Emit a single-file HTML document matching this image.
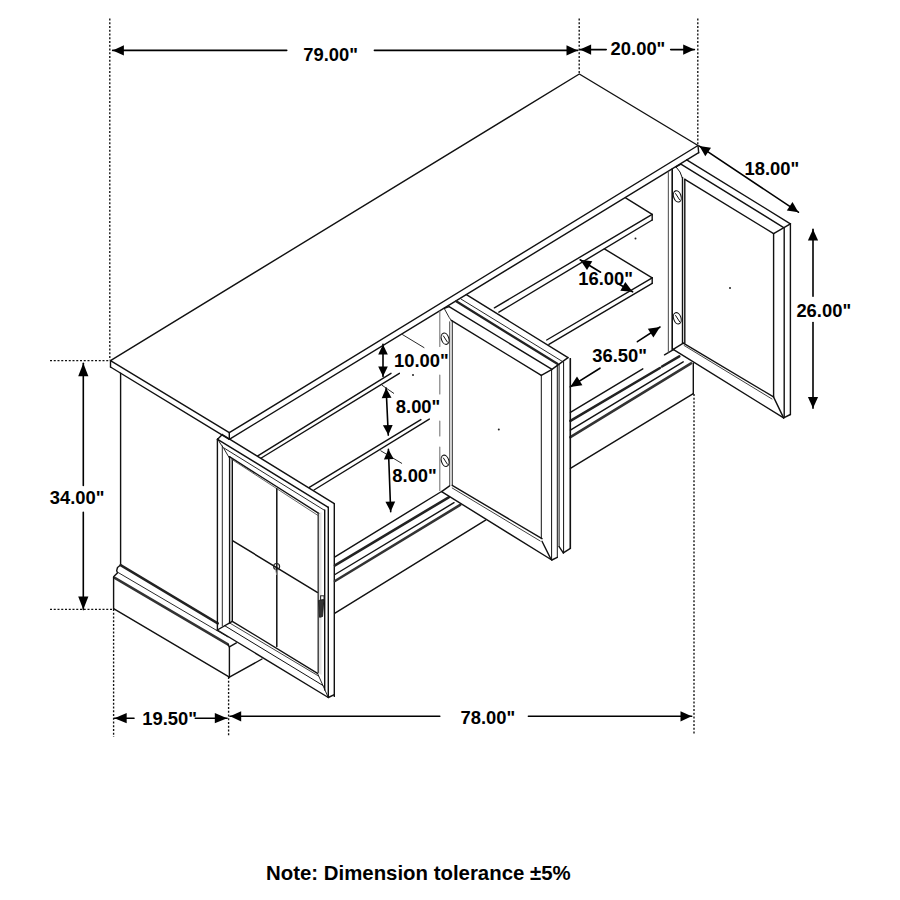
<!DOCTYPE html>
<html><head><meta charset="utf-8"><style>
html,body{margin:0;padding:0;background:#fff;}
body{width:900px;height:900px;overflow:hidden;position:relative;}
svg{position:absolute;left:0;top:0;}
text{font-family:"Liberation Sans",sans-serif;font-weight:bold;fill:#000;}
.note{position:absolute;left:266px;top:862.3px;font-family:"Liberation Sans",sans-serif;font-weight:bold;font-size:20.4px;color:#000;white-space:nowrap;}
</style></head><body>
<svg width="900" height="900" viewBox="0 0 900 900" stroke-linecap="round">
<line x1="109.8" y1="18.5" x2="109.8" y2="360.0" stroke="#111" stroke-width="1.35" stroke-dasharray="2 1.75" stroke-linecap="butt"/>
<line x1="579.2" y1="18.5" x2="579.2" y2="74.0" stroke="#111" stroke-width="1.35" stroke-dasharray="2 1.75" stroke-linecap="butt"/>
<line x1="697.8" y1="18.5" x2="697.8" y2="145.0" stroke="#111" stroke-width="1.35" stroke-dasharray="2 1.75" stroke-linecap="butt"/>
<line x1="50.0" y1="360.6" x2="110.0" y2="360.6" stroke="#111" stroke-width="1.35" stroke-dasharray="2 1.75" stroke-linecap="butt"/>
<line x1="50.0" y1="609.3" x2="114.0" y2="609.3" stroke="#111" stroke-width="1.35" stroke-dasharray="2 1.75" stroke-linecap="butt"/>
<line x1="113.6" y1="609.0" x2="113.6" y2="737.0" stroke="#111" stroke-width="1.35" stroke-dasharray="2 1.75" stroke-linecap="butt"/>
<line x1="228.6" y1="677.0" x2="228.6" y2="737.0" stroke="#111" stroke-width="1.35" stroke-dasharray="2 1.75" stroke-linecap="butt"/>
<line x1="694.0" y1="394.0" x2="694.0" y2="735.0" stroke="#111" stroke-width="1.35" stroke-dasharray="2 1.75" stroke-linecap="butt"/>
<line x1="112.7" y1="50.4" x2="286.7" y2="50.4" stroke="#000" stroke-width="1.6" />
<polygon points="112.7,50.4 123.9,45.3 123.9,55.5" fill="#000"/>
<line x1="374.4" y1="50.4" x2="577.7" y2="50.4" stroke="#000" stroke-width="1.6" />
<polygon points="577.7,50.4 566.5,55.5 566.5,45.3" fill="#000"/>
<line x1="579.9" y1="49.6" x2="606.2" y2="49.6" stroke="#000" stroke-width="1.6" />
<polygon points="579.9,49.6 591.1,44.5 591.1,54.7" fill="#000"/>
<line x1="670.7" y1="49.6" x2="694.4" y2="49.6" stroke="#000" stroke-width="1.6" />
<polygon points="694.4,49.6 683.2,54.7 683.2,44.5" fill="#000"/>
<line x1="83.3" y1="363.3" x2="83.3" y2="485.5" stroke="#000" stroke-width="1.6" />
<polygon points="83.3,363.3 88.4,376.3 78.2,376.3" fill="#000"/>
<line x1="83.3" y1="512.4" x2="83.3" y2="609.6" stroke="#000" stroke-width="1.6" />
<polygon points="83.3,609.6 78.2,596.6 88.4,596.6" fill="#000"/>
<line x1="114.4" y1="718.2" x2="134.0" y2="718.2" stroke="#000" stroke-width="1.6" />
<polygon points="114.4,718.2 126.7,713.1 126.7,723.3" fill="#000"/>
<line x1="195.3" y1="718.2" x2="227.1" y2="718.2" stroke="#000" stroke-width="1.6" />
<polygon points="227.1,718.2 214.8,723.3 214.8,713.1" fill="#000"/>
<line x1="230.0" y1="716.3" x2="439.8" y2="716.3" stroke="#000" stroke-width="1.6" />
<polygon points="230.0,716.3 241.2,711.2 241.2,721.4" fill="#000"/>
<line x1="528.4" y1="716.3" x2="691.7" y2="716.3" stroke="#000" stroke-width="1.6" />
<polygon points="691.7,716.3 680.5,721.4 680.5,711.2" fill="#000"/>
<line x1="699.4" y1="146.1" x2="798.4" y2="212.2" stroke="#000" stroke-width="1.6" />
<polygon points="699.4,146.1 711.0,147.7 705.3,156.2" fill="#000"/>
<polygon points="798.4,212.2 786.8,210.6 792.5,202.1" fill="#000"/>
<line x1="813.0" y1="229.3" x2="813.0" y2="296.3" stroke="#000" stroke-width="1.6" />
<polygon points="813.0,229.3 818.1,240.5 807.9,240.5" fill="#000"/>
<line x1="813.0" y1="322.6" x2="813.0" y2="408.3" stroke="#000" stroke-width="1.6" />
<polygon points="813.0,408.3 807.9,397.1 818.1,397.1" fill="#000"/>
<line x1="580.1" y1="259.8" x2="600.6" y2="272.2" stroke="#000" stroke-width="1.6" />
<polygon points="580.1,259.8 592.3,261.2 587.0,270.0" fill="#000"/>
<line x1="618.3" y1="283.8" x2="632.6" y2="291.8" stroke="#000" stroke-width="1.6" />
<polygon points="632.6,291.8 620.3,290.8 625.3,281.9" fill="#000"/>
<line x1="570.2" y1="386.9" x2="600.0" y2="368.2" stroke="#000" stroke-width="1.6" />
<polygon points="570.2,386.9 577.0,376.6 582.4,385.3" fill="#000"/>
<line x1="637.4" y1="341.7" x2="660.0" y2="327.0" stroke="#000" stroke-width="1.6" />
<polygon points="660.0,327.0 653.4,337.4 647.8,328.8" fill="#000"/>
<line x1="383.0" y1="344.4" x2="383.0" y2="376.4" stroke="#000" stroke-width="1.6" />
<polygon points="383.0,344.4 387.8,354.4 378.2,354.4" fill="#000"/>
<polygon points="383.0,376.4 378.2,366.4 387.8,366.4" fill="#000"/>
<line x1="386.1" y1="388.0" x2="388.3" y2="435.1" stroke="#000" stroke-width="1.6" />
<polygon points="386.1,388.0 391.5,397.8 381.7,398.2" fill="#000"/>
<polygon points="388.3,435.1 382.9,425.3 392.7,424.9" fill="#000"/>
<line x1="388.4" y1="449.3" x2="390.7" y2="511.6" stroke="#000" stroke-width="1.6" />
<polygon points="388.4,449.3 393.7,459.1 383.9,459.5" fill="#000"/>
<polygon points="390.7,511.6 385.4,501.8 395.2,501.4" fill="#000"/>
<polyline points="110.5,360.6 579.3,74.0 698.0,145.5 229.3,432.7 110.5,360.6" fill="none" stroke="#111" stroke-width="1.4" stroke-linejoin="round"/>
<line x1="110.5" y1="360.6" x2="110.5" y2="367.0" stroke="#111" stroke-width="1.4" />
<line x1="110.5" y1="367.0" x2="229.3" y2="439.3" stroke="#111" stroke-width="1.4" />
<line x1="229.3" y1="432.7" x2="229.3" y2="439.3" stroke="#111" stroke-width="1.4" />
<line x1="229.3" y1="439.3" x2="698.7" y2="152.7" stroke="#111" stroke-width="1.4" />
<line x1="698.0" y1="145.5" x2="698.7" y2="152.7" stroke="#111" stroke-width="1.4" />
<line x1="120.6" y1="373.3" x2="120.6" y2="565.0" stroke="#111" stroke-width="1.4" />
<polyline points="120.6,565.0 117.5,567.5 116.7,570.6 117.4,572.9 114.3,576.0 113.6,577.5" fill="none" stroke="#111" stroke-width="1.4" stroke-linejoin="round"/>
<line x1="120.6" y1="565.1" x2="217.8" y2="623.4" stroke="#222" stroke-width="2.4" />
<line x1="117.6" y1="572.2" x2="227.9" y2="637.0" stroke="#111" stroke-width="0.9" />
<line x1="114.3" y1="577.6" x2="227.9" y2="644.4" stroke="#333" stroke-width="2.6" />
<line x1="113.6" y1="577.0" x2="113.6" y2="608.7" stroke="#111" stroke-width="1.4" />
<line x1="113.6" y1="608.7" x2="229.4" y2="677.1" stroke="#111" stroke-width="1.4" />
<line x1="229.4" y1="646.8" x2="229.4" y2="677.1" stroke="#111" stroke-width="1.4" />
<line x1="227.9" y1="644.4" x2="229.4" y2="646.8" stroke="#111" stroke-width="1.4" />
<line x1="229.4" y1="646.8" x2="236.4" y2="642.9" stroke="#111" stroke-width="1.4" />
<line x1="229.4" y1="677.1" x2="262.0" y2="659.0" stroke="#111" stroke-width="1.4" />
<polygon points="318.2,514 321.5,512 321.5,675 318.2,673" fill="#e2e2e2"/>
<line x1="217.4" y1="439.3" x2="217.4" y2="630.0" stroke="#111" stroke-width="1.4" />
<line x1="222.3" y1="446.0" x2="222.3" y2="625.8" stroke="#111" stroke-width="0.9" />
<line x1="229.6" y1="456.7" x2="229.6" y2="623.0" stroke="#111" stroke-width="1.4" />
<line x1="232.3" y1="459.5" x2="232.3" y2="621.3" stroke="#111" stroke-width="1.4" />
<line x1="217.6" y1="439.3" x2="222.3" y2="434.6" stroke="#111" stroke-width="1.4" />
<line x1="222.3" y1="434.6" x2="334.3" y2="503.7" stroke="#111" stroke-width="1.4" />
<line x1="217.6" y1="439.3" x2="328.3" y2="507.3" stroke="#111" stroke-width="1.4" />
<line x1="224.0" y1="448.0" x2="324.0" y2="510.0" stroke="#111" stroke-width="0.9" />
<line x1="229.4" y1="456.7" x2="318.7" y2="513.3" stroke="#111" stroke-width="1.4" />
<line x1="232.0" y1="459.5" x2="318.0" y2="515.5" stroke="#555" stroke-width="0.9" />
<polyline points="217.6,438.7 220.0,443.0 223.7,448.3 229.2,457.7" fill="none" stroke="#111" stroke-width="0.9" stroke-linejoin="round"/>
<line x1="318.2" y1="513.3" x2="318.2" y2="672.4" stroke="#444" stroke-width="1.5" />
<line x1="324.7" y1="510.0" x2="324.7" y2="690.0" stroke="#111" stroke-width="1.4" />
<line x1="328.3" y1="507.3" x2="328.3" y2="697.3" stroke="#111" stroke-width="1.4" />
<line x1="334.3" y1="503.7" x2="334.3" y2="696.4" stroke="#111" stroke-width="1.4" />
<line x1="217.3" y1="630.0" x2="328.3" y2="697.5" stroke="#111" stroke-width="1.4" />
<line x1="328.3" y1="697.5" x2="334.3" y2="694.6" stroke="#111" stroke-width="1.4" />
<line x1="217.3" y1="630.0" x2="232.3" y2="621.3" stroke="#111" stroke-width="1.4" />
<line x1="232.3" y1="621.3" x2="317.5" y2="673.3" stroke="#111" stroke-width="1.4" />
<line x1="229.7" y1="623.0" x2="318.5" y2="676.0" stroke="#111" stroke-width="0.8" />
<line x1="224.7" y1="625.7" x2="323.0" y2="685.5" stroke="#111" stroke-width="1.0" />
<line x1="317.5" y1="673.3" x2="328.3" y2="697.5" stroke="#111" stroke-width="0.9" />
<line x1="276.8" y1="488.8" x2="276.8" y2="646.6" stroke="#111" stroke-width="1.5" />
<line x1="232.9" y1="540.9" x2="317.3" y2="592.4" stroke="#111" stroke-width="1.5" />
<circle cx="276.6" cy="566.5" r="3" fill="none" stroke="#222" stroke-width="1.2"/>
<path d="M275.5 569.5 L276.8 575 L278 569.5" fill="none" stroke="#888" stroke-width="0.8"/>
<rect x="320.6" y="595.8" width="3.4" height="4.5" fill="none" stroke="#222" stroke-width="1"/>
<polygon points="318.8,600.5 323.8,599.5 323.2,608.0 322.6,616.5 319.6,617.3 319.0,608.0" fill="#333" stroke="#222" stroke-width="1.0" stroke-linejoin="round"/>
<line x1="257.8" y1="455.8" x2="391.0" y2="373.3" stroke="#111" stroke-width="1.4" />
<line x1="261.3" y1="458.0" x2="399.4" y2="373.3" stroke="#111" stroke-width="1.4" />
<line x1="402.5" y1="334.6" x2="424.0" y2="347.6" stroke="#111" stroke-width="0.9" />
<line x1="382.1" y1="385.3" x2="393.7" y2="393.3" stroke="#111" stroke-width="0.9" />
<line x1="309.3" y1="487.3" x2="420.9" y2="419.6" stroke="#111" stroke-width="1.4" />
<line x1="314.0" y1="490.0" x2="429.3" y2="419.1" stroke="#111" stroke-width="1.4" />
<line x1="380.8" y1="450.8" x2="401.7" y2="463.3" stroke="#111" stroke-width="0.9" />
<line x1="439.8" y1="311.0" x2="439.8" y2="346.5" stroke="#777" stroke-width="1.1" />
<line x1="439.8" y1="375.0" x2="439.8" y2="394.0" stroke="#777" stroke-width="1.1" />
<line x1="439.8" y1="421.0" x2="439.8" y2="436.0" stroke="#777" stroke-width="1.1" />
<line x1="439.8" y1="447.0" x2="439.8" y2="490.5" stroke="#777" stroke-width="1.1" />
<line x1="449.7" y1="321.8" x2="449.7" y2="485.5" stroke="#555" stroke-width="1.1" />
<line x1="452.3" y1="320.9" x2="452.3" y2="485.3" stroke="#333" stroke-width="1.1" />
<ellipse cx="445.1" cy="338.7" rx="3.7" ry="5.8" transform="rotate(-18 445.1 338.7)" fill="#fff" stroke="#111" stroke-width="1.1"/>
<line x1="443.4" y1="335.9" x2="447.4" y2="342.1" stroke="#111" stroke-width="1.0" />
<ellipse cx="445.1" cy="460.8" rx="3.7" ry="5.8" transform="rotate(-18 445.1 460.8)" fill="#fff" stroke="#111" stroke-width="1.1"/>
<line x1="443.4" y1="458.0" x2="447.4" y2="464.2" stroke="#111" stroke-width="1.0" />
<line x1="335.0" y1="556.8" x2="440.7" y2="492.0" stroke="#111" stroke-width="1.4" />
<line x1="335.0" y1="565.3" x2="448.7" y2="497.3" stroke="#222" stroke-width="2.6" />
<line x1="335.0" y1="574.5" x2="454.0" y2="502.7" stroke="#111" stroke-width="1.4" />
<line x1="335.0" y1="581.0" x2="460.2" y2="504.9" stroke="#333" stroke-width="2.6" />
<line x1="335.0" y1="613.2" x2="485.6" y2="520.2" stroke="#111" stroke-width="1.4" />
<line x1="466.4" y1="294.7" x2="568.0" y2="357.6" stroke="#111" stroke-width="1.4" />
<line x1="456.2" y1="301.3" x2="557.3" y2="363.8" stroke="#222" stroke-width="2.3" />
<line x1="461.1" y1="299.1" x2="561.8" y2="361.1" stroke="#111" stroke-width="0.9" />
<line x1="449.1" y1="306.7" x2="551.6" y2="369.1" stroke="#111" stroke-width="1.4" />
<line x1="444.2" y1="308.4" x2="449.1" y2="306.7" stroke="#111" stroke-width="1.4" />
<polyline points="444.2,308.4 449.1,317.3 451.3,320.4" fill="none" stroke="#111" stroke-width="0.9" stroke-linejoin="round"/>
<line x1="451.3" y1="320.4" x2="541.3" y2="375.3" stroke="#111" stroke-width="1.4" />
<line x1="541.3" y1="375.3" x2="541.3" y2="538.7" stroke="#111" stroke-width="1.0" />
<line x1="551.6" y1="369.6" x2="551.6" y2="560.0" stroke="#111" stroke-width="1.0" />
<line x1="557.3" y1="365.6" x2="557.3" y2="557.3" stroke="#111" stroke-width="1.0" />
<line x1="559.1" y1="364.0" x2="559.1" y2="546.7" stroke="#111" stroke-width="1.0" />
<line x1="563.6" y1="362.0" x2="563.6" y2="552.9" stroke="#111" stroke-width="1.0" />
<line x1="570.2" y1="358.4" x2="570.2" y2="548.4" stroke="#111" stroke-width="1.0" />
<line x1="541.3" y1="375.3" x2="551.6" y2="369.6" stroke="#111" stroke-width="1.4" />
<line x1="551.6" y1="369.6" x2="568.0" y2="357.6" stroke="#111" stroke-width="1.4" />
<line x1="441.6" y1="491.6" x2="551.8" y2="560.0" stroke="#111" stroke-width="1.4" />
<line x1="449.6" y1="485.9" x2="441.6" y2="491.6" stroke="#111" stroke-width="1.4" />
<line x1="452.2" y1="485.3" x2="542.0" y2="538.7" stroke="#111" stroke-width="1.4" />
<line x1="452.2" y1="488.0" x2="540.2" y2="541.0" stroke="#111" stroke-width="0.8" />
<line x1="542.0" y1="541.3" x2="550.9" y2="559.1" stroke="#111" stroke-width="1.4" />
<line x1="551.8" y1="560.0" x2="557.3" y2="557.3" stroke="#111" stroke-width="1.4" />
<line x1="559.1" y1="546.7" x2="563.3" y2="552.9" stroke="#111" stroke-width="1.4" />
<line x1="563.3" y1="552.9" x2="570.4" y2="548.4" stroke="#111" stroke-width="1.4" />
<line x1="625.6" y1="197.8" x2="652.2" y2="214.4" stroke="#111" stroke-width="1.4" />
<line x1="652.2" y1="214.4" x2="652.2" y2="220.0" stroke="#111" stroke-width="1.4" />
<line x1="652.2" y1="214.4" x2="494.4" y2="307.8" stroke="#111" stroke-width="1.4" />
<line x1="652.2" y1="220.0" x2="498.9" y2="312.2" stroke="#111" stroke-width="1.4" />
<line x1="604.4" y1="248.9" x2="652.2" y2="277.8" stroke="#111" stroke-width="1.4" />
<line x1="652.2" y1="277.8" x2="652.2" y2="283.3" stroke="#111" stroke-width="1.4" />
<line x1="652.2" y1="277.8" x2="546.7" y2="340.0" stroke="#111" stroke-width="1.4" />
<line x1="652.2" y1="283.3" x2="548.9" y2="344.4" stroke="#111" stroke-width="1.4" />
<line x1="570.4" y1="412.3" x2="642.8" y2="368.8" stroke="#111" stroke-width="1.4" />
<line x1="664.5" y1="354.8" x2="673.9" y2="349.3" stroke="#111" stroke-width="1.4" />
<line x1="570.4" y1="420.9" x2="659.9" y2="368.0" stroke="#222" stroke-width="2.6" />
<line x1="662.0" y1="366.5" x2="679.3" y2="356.3" stroke="#222" stroke-width="2.6" />
<line x1="570.4" y1="430.2" x2="683.2" y2="361.8" stroke="#111" stroke-width="1.4" />
<line x1="570.4" y1="437.2" x2="691.0" y2="363.3" stroke="#333" stroke-width="2.6" />
<line x1="570.4" y1="468.3" x2="693.3" y2="393.7" stroke="#111" stroke-width="1.4" />
<line x1="693.3" y1="363.3" x2="693.3" y2="393.7" stroke="#111" stroke-width="1.4" />
<line x1="570.4" y1="358.7" x2="570.4" y2="548.4" stroke="#111" stroke-width="1.4" />
<line x1="668.4" y1="172.2" x2="668.4" y2="352.0" stroke="#666" stroke-width="1.2" />
<line x1="672.2" y1="169.1" x2="672.2" y2="349.4" stroke="#111" stroke-width="1.6" />
<line x1="686.7" y1="159.8" x2="790.4" y2="223.8" stroke="#111" stroke-width="1.4" />
<line x1="680.9" y1="164.2" x2="783.3" y2="227.3" stroke="#111" stroke-width="1.4" />
<line x1="676.0" y1="166.9" x2="680.9" y2="164.2" stroke="#111" stroke-width="1.4" />
<polyline points="676.0,166.9 680.0,172.0 682.2,177.6" fill="none" stroke="#111" stroke-width="1.0" stroke-linejoin="round"/>
<line x1="684.9" y1="179.3" x2="773.6" y2="233.6" stroke="#111" stroke-width="1.4" />
<line x1="682.5" y1="177.6" x2="682.5" y2="343.2" stroke="#111" stroke-width="1.4" />
<line x1="684.8" y1="179.3" x2="684.8" y2="343.2" stroke="#111" stroke-width="1.4" />
<line x1="773.6" y1="233.6" x2="790.4" y2="223.8" stroke="#111" stroke-width="1.4" />
<line x1="773.6" y1="233.6" x2="773.6" y2="396.9" stroke="#111" stroke-width="1.4" />
<line x1="784.2" y1="228.0" x2="784.2" y2="417.5" stroke="#111" stroke-width="1.4" />
<line x1="790.4" y1="223.8" x2="790.4" y2="414.5" stroke="#111" stroke-width="1.4" />
<line x1="673.2" y1="349.4" x2="783.6" y2="417.9" stroke="#111" stroke-width="1.4" />
<line x1="683.3" y1="343.2" x2="773.5" y2="396.9" stroke="#111" stroke-width="1.4" />
<line x1="684.1" y1="345.5" x2="772.0" y2="399.0" stroke="#111" stroke-width="0.8" />
<line x1="773.5" y1="396.9" x2="783.6" y2="417.9" stroke="#111" stroke-width="1.4" />
<line x1="783.6" y1="417.9" x2="790.4" y2="414.5" stroke="#111" stroke-width="1.4" />
<line x1="673.2" y1="349.4" x2="683.3" y2="343.2" stroke="#111" stroke-width="1.4" />
<ellipse cx="677.3" cy="196.4" rx="3.7" ry="5.8" transform="rotate(-18 677.3 196.4)" fill="#fff" stroke="#111" stroke-width="1.1"/>
<line x1="675.6" y1="193.6" x2="679.6" y2="199.8" stroke="#111" stroke-width="1.0" />
<ellipse cx="677.3" cy="318.3" rx="3.7" ry="5.8" transform="rotate(-18 677.3 318.3)" fill="#fff" stroke="#111" stroke-width="1.1"/>
<line x1="675.6" y1="315.5" x2="679.6" y2="321.7" stroke="#111" stroke-width="1.0" />
<circle cx="413" cy="375" r="1" fill="#222"/>
<circle cx="635.5" cy="238.5" r="1" fill="#222"/>
<circle cx="730" cy="288" r="1" fill="#222"/>
<circle cx="498.8" cy="429.5" r="1" fill="#222"/>
<text x="303.2" y="61.1" font-size="18.4" text-anchor="start">79.00&quot;</text>
<text x="610.6" y="55.0" font-size="18.4" text-anchor="start">20.00&quot;</text>
<text x="49.8" y="504.2" font-size="18.4" text-anchor="start">34.00&quot;</text>
<text x="142.3" y="724.7" font-size="18.4" text-anchor="start">19.50&quot;</text>
<text x="460.5" y="724.4" font-size="18.4" text-anchor="start">78.00&quot;</text>
<text x="744.5" y="174.9" font-size="18.4" text-anchor="start">18.00&quot;</text>
<text x="796.4" y="316.8" font-size="18.4" text-anchor="start">26.00&quot;</text>
<text x="578.2" y="284.7" font-size="18.4" text-anchor="start">16.00&quot;</text>
<text x="592.2" y="361.7" font-size="18.4" text-anchor="start">36.50&quot;</text>
<text x="394.0" y="367.1" font-size="18.4" text-anchor="start">10.00&quot;</text>
<text x="395.8" y="413.3" font-size="18.4" text-anchor="start">8.00&quot;</text>
<text x="392.3" y="481.8" font-size="18.4" text-anchor="start">8.00&quot;</text>
</svg>
<div class="note">Note: Dimension tolerance ±5%</div>
</body></html>
